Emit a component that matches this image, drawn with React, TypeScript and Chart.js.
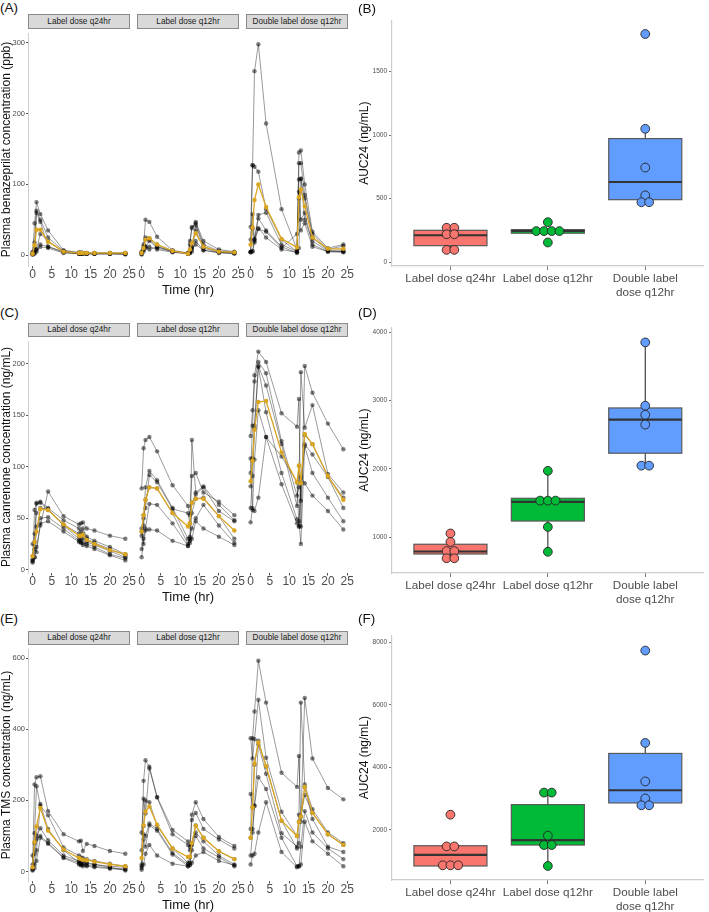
import React, { useEffect, useRef } from 'react';
import { Chart, registerables } from 'chart.js';
Chart.register(...registerables);

const FONT = "'Liberation Sans', Arial, Helvetica, sans-serif";

// ---------- shared ----------
const TIME_H = [0, 0.5, 1, 2, 4, 8, 12, 12.5, 13, 14, 16, 20, 24];
const TIME_TICKS = [0, 5, 10, 15, 20, 25];
const FACETS = ['Label dose q24hr', 'Label dose q12hr', 'Double label dose q12hr'];
const GROUPS = ['Label dose q24hr', 'Label dose q12hr', ['Double label', 'dose q12hr']];
const GROUP_COLORS = ['#F8766D', '#00BA38', '#619CFF'];

// ---------- (A) benazeprilat ----------
const BNZ_TICKS = [0, 100, 200, 300];
const BNZ_Q24 = [
  [2, 45, 75, 58, 35, 7, 4, 4, 3, 3, 3, 3, 3],
  [3, 18, 63, 50, 25, 6, 3, 3, 3, 2, 2, 2, 2],
  [1, 5, 60, 47, 12, 5, 2, 2, 2, 2, 2, 2, 2],
  [2, 3, 8, 15, 12, 4, 2, 2, 2, 2, 2, 2, 2],
  [1, 2, 5, 12, 10, 3, 2, 2, 2, 2, 2, 2, 1],
  [5, 10, 8, 30, 20, 5, 3, 3, 3, 3, 3, 3, 3],
];
const BNZ_Q24_MEAN = [2, 14, 36, 36, 19, 5, 3, 3, 3, 3, 3, 3, 3];
const BNZ_Q12 = [
  [2, 12, 50, 47, 26, 7, 3, 20, 38, 47, 20, 8, 5],
  [3, 8, 25, 24, 15, 6, 2, 15, 40, 45, 15, 6, 4],
  [2, 15, 22, 22, 12, 5, 2, 5, 12, 42, 12, 5, 3],
  [4, 10, 12, 20, 10, 5, 3, 4, 10, 35, 10, 4, 3],
  [1, 5, 10, 12, 8, 4, 2, 3, 5, 20, 7, 3, 2],
  [5, 8, 12, 8, 12, 6, 2, 3, 8, 15, 7, 4, 3],
];
const BNZ_Q12_MEAN = [3, 10, 22, 24, 15, 6, 2, 8, 17, 31, 12, 5, 4];
const BNZ_DBL = [
  [5, 127, 260, 298, 186, 65, 8, 145, 148, 100, 33, 10, 15],
  [40, 127, 125, 118, 65, 22, 5, 130, 130, 85, 30, 8, 13],
  [22, 58, 22, 57, 60, 15, 5, 107, 108, 80, 25, 7, 7],
  [5, 38, 20, 52, 35, 12, 3, 90, 50, 60, 15, 5, 5],
  [4, 5, 23, 37, 33, 10, 30, 80, 35, 45, 12, 5, 4],
  [4, 6, 18, 38, 25, 8, 4, 10, 108, 50, 20, 6, 5],
];
const BNZ_DBL_MEAN = [15, 39, 78, 100, 68, 23, 11, 82, 93, 69, 25, 9, 9];

// ---------- (C) canrenone ----------
const CAN_TICKS = [0, 50, 100, 150, 200];
const CAN_Q24 = [
  [7, 12, 22, 43, 76, 52, 44, 45, 46, 40, 38, 33, 30],
  [10, 58, 65, 66, 60, 48, 40, 37, 40, 32, 28, 22, 15],
  [13, 35, 64, 65, 58, 44, 35, 33, 35, 30, 26, 20, 14],
  [9, 27, 55, 60, 59, 43, 30, 29, 30, 27, 24, 18, 12],
  [8, 12, 42, 50, 51, 40, 28, 27, 26, 25, 22, 15, 11],
  [25, 20, 17, 45, 47, 37, 27, 26, 24, 23, 20, 14, 9],
];
const CAN_Q24_MEAN = [13, 27, 37, 59, 58, 44, 33, 33, 34, 29, 25, 19, 15];
const CAN_Q12 = [
  [79, 118, 126, 129, 115, 82, 62, 53, 91, 94, 75, 66, 53],
  [37, 50, 80, 96, 87, 60, 30, 28, 126, 75, 81, 63, 48],
  [33, 53, 60, 92, 85, 59, 55, 45, 65, 73, 80, 57, 47],
  [20, 43, 68, 80, 79, 55, 25, 30, 55, 69, 70, 52, 30],
  [12, 30, 40, 64, 63, 45, 23, 32, 40, 50, 63, 43, 26],
  [40, 25, 38, 39, 38, 28, 23, 26, 30, 47, 40, 32, 24],
];
const CAN_Q12_MEAN = [37, 53, 68, 80, 79, 55, 42, 45, 65, 69, 69, 52, 38];
const CAN_DBL = [
  [130, 155, 189, 212, 202, 152, 139, 166, 42, 198, 172, 142, 117],
  [94, 140, 183, 202, 191, 125, 72, 80, 192, 138, 160, 93, 75],
  [81, 108, 140, 198, 179, 122, 62, 101, 67, 131, 122, 91, 70],
  [60, 91, 137, 197, 153, 94, 49, 47, 25, 122, 112, 90, 60],
  [46, 60, 107, 155, 129, 83, 45, 42, 84, 120, 94, 70, 47],
  [108, 58, 57, 70, 129, 110, 85, 42, 90, 84, 72, 57, 39],
];
const CAN_DBL_MEAN = [86, 106, 136, 163, 164, 114, 85, 101, 84, 132, 122, 91, 68];

// ---------- (E) TMS ----------
const TMS_TICKS = [0, 200, 400, 600];
const TMS_Q24 = [
  [20, 245, 265, 268, 170, 105, 85, 87, 58, 78, 72, 58, 50],
  [10, 108, 240, 185, 158, 68, 45, 40, 38, 35, 30, 22, 15],
  [8, 80, 100, 122, 88, 45, 30, 25, 22, 22, 20, 15, 12],
  [5, 50, 90, 100, 80, 40, 25, 22, 20, 18, 15, 10, 8],
  [3, 20, 30, 95, 78, 38, 20, 18, 15, 15, 12, 8, 5],
  [45, 10, 60, 190, 120, 60, 25, 20, 30, 25, 20, 12, 3],
];
const TMS_Q24_MEAN = [12, 83, 127, 179, 115, 62, 38, 35, 33, 32, 28, 20, 15];
const TMS_Q12 = [
  [15, 255, 313, 295, 210, 117, 85, 70, 160, 195, 148, 97, 72],
  [110, 205, 163, 290, 208, 105, 75, 60, 145, 165, 120, 90, 65],
  [60, 128, 200, 195, 130, 65, 25, 40, 80, 130, 95, 57, 35],
  [20, 105, 100, 135, 120, 52, 20, 25, 75, 110, 85, 45, 20],
  [10, 90, 70, 130, 115, 48, 15, 20, 60, 100, 65, 40, 15],
  [5, 20, 50, 75, 45, 22, 15, 18, 25, 45, 55, 30, 18],
];
const TMS_Q12_MEAN = [38, 130, 169, 183, 132, 65, 41, 42, 80, 129, 95, 57, 35];
const TMS_DBL = [
  [95, 375, 450, 593, 475, 278, 238, 325, 140, 488, 318, 235, 203],
  [375, 318, 372, 483, 320, 168, 100, 160, 475, 245, 175, 110, 80],
  [218, 180, 300, 368, 295, 143, 65, 140, 155, 215, 165, 105, 75],
  [120, 120, 185, 357, 275, 108, 70, 80, 155, 238, 148, 70, 55],
  [45, 110, 185, 265, 232, 95, 15, 15, 70, 170, 110, 65, 35],
  [20, 45, 50, 110, 195, 55, 12, 15, 20, 140, 85, 50, 15],
];
const TMS_DBL_MEAN = [95, 181, 304, 363, 297, 143, 100, 140, 155, 238, 165, 105, 75];

// ---------- (B) AUC24 benazeprilat ----------
const B_TICKS = [0, 500, 1000, 1500];
const B_Q1 = [129, 227, 491];
const B_MED = [211, 245, 630];
const B_Q3 = [250, 255, 972];
const B_LO = [96, 227, 471];
const B_HI = [270, 255, 1049];
const B_PTS = [
  [270, 270, 219, 219, 96, 96],
  [314, 244, 244, 244, 244, 154],
  [1795, 1049, 744, 525, 471, 471],
];

// ---------- (D) AUC24 canrenone ----------
const D_TICKS = [1000, 2000, 3000, 4000];
const D_Q1 = [752, 1235, 2228];
const D_MED = [789, 1516, 2719];
const D_Q3 = [895, 1568, 2891];
const D_LO = [690, 785, 2046];
const D_HI = [1053, 1970, 3851];
const D_PTS = [
  [1053, 928, 795, 795, 690, 690],
  [1970, 1534, 1534, 1534, 1148, 785],
  [3851, 2924, 2791, 2648, 2046, 2046],
];

// ---------- (F) AUC24 TMS ----------
const F_TICKS = [2000, 4000, 6000, 8000];
const F_Q1 = [840, 1511, 2859];
const F_MED = [1197, 1668, 3265];
const F_Q3 = [1489, 2806, 4445];
const F_LO = [840, 840, 2784];
const F_HI = [1489, 3191, 4781];
const F_PTS = [
  [2483, 1467, 1467, 862, 862, 862],
  [3191, 3191, 1812, 1511, 1511, 840],
  [7740, 4781, 3549, 3003, 2784, 2784],
];

// ---------- styling ----------
const GOLD = '#DAA520';
const SUBJ_LINE = 'rgba(0,0,0,0.4)';
const SUBJ_PT = 'rgba(0,0,0,0.5)';
const AXIS_TXT = '#4d4d4d';
const DOT_STEP = 0.079;
const BOX_W = 0.75;

function toXY(vals: number[]) {
  return vals.map((v, i) => ({ x: TIME_H[i], y: v }));
}

function dotOffset(vals: number[], i: number) {
  const same: number[] = [];
  vals.forEach((v, j) => { if (v === vals[i]) same.push(j); });
  const k = same.indexOf(i);
  return (k - (same.length - 1) / 2) * DOT_STEP;
}

const plainNum = (v: any) => String(v);

type FacetProps = {
  subjects: number[][]; mean: number[]; yMin: number; yMax: number; yTicks: number[];
  showY: boolean; yTitle: string; showXTitle: boolean; yW: number; padL: number; padR: number;
};

function facetConfig(p: FacetProps): any {
  const datasets: any[] = [
    {
      data: toXY(p.mean), showLine: true, order: 0,
      borderColor: GOLD, borderWidth: 1.3, pointRadius: 2.2, pointBackgroundColor: GOLD, pointBorderWidth: 0,
    },
    ...p.subjects.map((s) => ({
      data: toXY(s), showLine: true, order: 1,
      borderColor: SUBJ_LINE, borderWidth: 1, pointRadius: 2.2, pointBackgroundColor: SUBJ_PT, pointBorderWidth: 0,
    })),
  ];
  return {
    type: 'scatter',
    data: { datasets },
    options: {
      responsive: false, animation: false, events: [],
      layout: { padding: { left: p.padL, right: p.padR, top: 0, bottom: 0 } },
      plugins: { legend: { display: false }, tooltip: { enabled: false } },
      scales: {
        x: {
          type: 'linear', min: -1.2, max: 25.2,
          afterBuildTicks: (s: any) => { s.ticks = TIME_TICKS.map((v) => ({ value: v })); },
          afterFit: (s: any) => { s.height = 32; s.paddingLeft = 0; s.paddingRight = 0; },
          grid: { drawOnChartArea: false, drawTicks: true, tickLength: 2.5, tickColor: '#555' },
          border: { display: false },
          ticks: { font: { family: FONT, size: 12, lineHeight: 1 }, color: AXIS_TXT, padding: 0, maxRotation: 0, autoSkip: false, callback: plainNum },
          title: { display: p.showXTitle, text: 'Time (hr)', font: { family: FONT, size: 13 }, color: '#111', padding: 0 },
        },
        y: {
          type: 'linear', display: p.showY, min: p.yMin, max: p.yMax,
          afterBuildTicks: (s: any) => { s.ticks = p.yTicks.map((v) => ({ value: v })); },
          afterFit: (s: any) => { s.width = p.showY ? p.yW : 0; s.paddingTop = 0; s.paddingBottom = 0; },
          grid: { drawOnChartArea: false, drawTicks: true, tickLength: 2, tickColor: '#555' },
          border: { display: true, color: '#cfcfcf', width: 1 },
          ticks: { font: { family: FONT, size: 7.5 }, color: AXIS_TXT, padding: 1, callback: plainNum },
          title: { display: true, text: p.yTitle, font: { family: FONT, size: 12, lineHeight: 1.1 }, color: '#111', padding: 0 },
        },
      },
    },
  };
}

const boxPlugin = {
  id: 'boxes',
  beforeDatasetsDraw(chart: any, _args: any, opts: any) {
    const { ctx, scales } = chart;
    const x = scales.x, y = scales.y;
    ctx.save();
    opts.q1.forEach((q1: number, i: number) => {
      const cx = x.getPixelForValue(i + 1);
      const xl = x.getPixelForValue(i + 1 - BOX_W / 2);
      const xr = x.getPixelForValue(i + 1 + BOX_W / 2);
      const y1 = y.getPixelForValue(q1);
      const y3 = y.getPixelForValue(opts.q3[i]);
      const ym = y.getPixelForValue(opts.med[i]);
      const ylo = y.getPixelForValue(opts.lo[i]);
      const yhi = y.getPixelForValue(opts.hi[i]);
      ctx.strokeStyle = '#333';
      ctx.lineWidth = 1.1;
      ctx.beginPath();
      ctx.moveTo(cx, y3); ctx.lineTo(cx, yhi);
      ctx.moveTo(cx, y1); ctx.lineTo(cx, ylo);
      ctx.stroke();
      ctx.fillStyle = GROUP_COLORS[i];
      ctx.fillRect(xl, y3, xr - xl, y1 - y3);
      ctx.strokeStyle = '#595959';
      ctx.lineWidth = 1.2;
      ctx.strokeRect(xl, y3, xr - xl, y1 - y3);
      ctx.strokeStyle = '#333';
      ctx.lineWidth = 2.2;
      ctx.beginPath();
      ctx.moveTo(xl, ym); ctx.lineTo(xr, ym);
      ctx.stroke();
    });
    ctx.restore();
  },
};

type BoxProps = {
  q1: number[]; med: number[]; q3: number[]; lo: number[]; hi: number[]; pts: number[][];
  yMin: number; yMax: number; yTicks: number[];
};

function boxConfig(p: BoxProps): any {
  const datasets = p.pts.map((vals, g) => ({
    data: vals.map((v, i) => ({ x: g + 1 + dotOffset(vals, i), y: v })),
    showLine: false,
    pointRadius: 4.4,
    pointBackgroundColor: GROUP_COLORS[g],
    pointBorderColor: '#262626',
    pointBorderWidth: 0.9,
  }));
  return {
    type: 'scatter',
    data: { datasets },
    plugins: [boxPlugin],
    options: {
      responsive: false, animation: false, events: [],
      layout: { padding: 0 },
      plugins: {
        legend: { display: false }, tooltip: { enabled: false },
        boxes: { q1: p.q1, med: p.med, q3: p.q3, lo: p.lo, hi: p.hi },
      },
      scales: {
        x: {
          type: 'linear', min: 0.4, max: 3.6,
          afterBuildTicks: (s: any) => { s.ticks = GROUPS.map((_, i) => ({ value: i + 1 })); },
          afterFit: (s: any) => { s.height = 36; s.paddingLeft = 0; s.paddingRight = 0; },
          grid: { drawOnChartArea: false, drawTicks: true, tickLength: 4, tickColor: '#777' },
          border: { display: true, color: '#cccccc', width: 1.2 },
          ticks: {
            font: { family: FONT, size: 11.7, lineHeight: 1.2 }, color: AXIS_TXT, padding: 2,
            maxRotation: 0, autoSkip: false,
            callback: (v: any) => GROUPS[Math.round(v) - 1],
          },
        },
        y: {
          type: 'linear', min: p.yMin, max: p.yMax,
          afterBuildTicks: (s: any) => { s.ticks = p.yTicks.map((v) => ({ value: v })); },
          afterFit: (s: any) => { s.width = 37; s.paddingTop = 0; s.paddingBottom = 0; },
          grid: { drawOnChartArea: false, drawTicks: true, tickLength: 3, tickColor: '#777' },
          border: { display: true, color: '#cccccc', width: 1.2 },
          ticks: { font: { family: FONT, size: 6.5 }, color: AXIS_TXT, padding: 2, callback: plainNum },
          title: { display: true, text: 'AUC24 (ng/mL)', font: { family: FONT, size: 12 }, color: '#111', padding: { top: 2, bottom: 0 } },
        },
      },
    },
  };
}

function ChartBox({ left, top, width, height, config }: { left: number; top: number; width: number; height: number; config: () => any }) {
  const ref = useRef<HTMLCanvasElement>(null);
  useEffect(() => {
    const c = new Chart(ref.current as HTMLCanvasElement, config());
    return () => c.destroy();
  }, []);
  return (
    <div style={{ position: 'absolute', left, top, width, height }}>
      <canvas ref={ref} width={width} height={height} style={{ width, height, display: 'block' }} />
    </div>
  );
}

// layout (pixels)
const FACET_LEFTS = [28, 137, 246];
const FACET_W = 102;
const Y_AXIS_W = 28;
const SIDE_PAD = 8;
const X_AXIS_H = 32;

type RowSpec = {
  stripTop: number; plotTop: number; plotBottom: number; yMin: number; yMax: number; yTicks: number[];
  yTitle: string; data: number[][][]; means: number[][];
};

const ROWS: RowSpec[] = [
  { stripTop: 14, plotTop: 29, plotBottom: 266, yMin: -15.3, yMax: 313.9, yTicks: BNZ_TICKS,
    yTitle: 'Plasma benazeprilat concentration (ppb)', data: [BNZ_Q24, BNZ_Q12, BNZ_DBL], means: [BNZ_Q24_MEAN, BNZ_Q12_MEAN, BNZ_DBL_MEAN] },
  { stripTop: 322.7, plotTop: 337, plotBottom: 572.7, yMin: -3.25, yMax: 222.3, yTicks: CAN_TICKS,
    yTitle: 'Plasma canrenone concentration (ng/mL)', data: [CAN_Q24, CAN_Q12, CAN_DBL], means: [CAN_Q24_MEAN, CAN_Q12_MEAN, CAN_DBL_MEAN] },
  { stripTop: 630.7, plotTop: 645, plotBottom: 881.3, yMin: -26.5, yMax: 625.7, yTicks: TMS_TICKS,
    yTitle: 'Plasma TMS concentration (ng/mL)', data: [TMS_Q24, TMS_Q12, TMS_DBL], means: [TMS_Q24_MEAN, TMS_Q12_MEAN, TMS_DBL_MEAN] },
];

const BOXES = [
  { top: 15, bottom: 265.7, yMin: -31, yMax: 1903, yTicks: B_TICKS, q1: B_Q1, med: B_MED, q3: B_Q3, lo: B_LO, hi: B_HI, pts: B_PTS },
  { top: 321.7, bottom: 572.7, yMin: 474, yMax: 4072, yTicks: D_TICKS, q1: D_Q1, med: D_MED, q3: D_Q3, lo: D_LO, hi: D_HI, pts: D_PTS },
  { top: 630, bottom: 880, yMin: 391, yMax: 8229, yTicks: F_TICKS, q1: F_Q1, med: F_MED, q3: F_Q3, lo: F_LO, hi: F_HI, pts: F_PTS },
];

const PANEL_LABELS = [
  { t: '(A)', x: 0, y: 1 }, { t: '(B)', x: 358, y: 2 },
  { t: '(C)', x: 0, y: 306 }, { t: '(D)', x: 358, y: 306 },
  { t: '(E)', x: 0, y: 612 }, { t: '(F)', x: 358, y: 612 },
];

export default function App() {
  const items: React.ReactNode[] = [];
  ROWS.forEach((row, r) => {
    const plotH = row.plotBottom - row.plotTop;
    FACET_LEFTS.forEach((fl, f) => {
      const first = f === 0;
      const canvasLeft = first ? fl - Y_AXIS_W : fl - SIDE_PAD;
      const padL = first ? 0 : SIDE_PAD;
      const width = (fl + FACET_W + SIDE_PAD) - canvasLeft;
      const props: FacetProps = {
        subjects: row.data[f], mean: row.means[f], yMin: row.yMin, yMax: row.yMax, yTicks: row.yTicks,
        showY: first, yTitle: row.yTitle, showXTitle: f === 1, yW: Y_AXIS_W, padL, padR: SIDE_PAD,
      };
      items.push(
        <ChartBox key={`f${r}${f}`} left={canvasLeft} top={row.plotTop} width={width}
          height={Math.round(plotH + X_AXIS_H)} config={() => facetConfig(props)} />
      );
      items.push(
        <div key={`s${r}${f}`} style={{
          position: 'absolute', left: fl, top: row.stripTop, width: FACET_W, height: row.plotTop - row.stripTop,
          boxSizing: 'border-box', background: '#d9d9d9', border: '1px solid #8a8a8a',
          fontFamily: FONT, fontSize: 8.2, color: '#1a1a1a', display: 'flex', alignItems: 'center',
          justifyContent: 'center', whiteSpace: 'nowrap',
        }}>{FACETS[f]}</div>
      );
    });
  });
  BOXES.forEach((b, i) => {
    const h = Math.round(b.bottom - b.top + 36);
    items.push(
      <ChartBox key={`b${i}`} left={355} top={b.top} width={354} height={h}
        config={() => boxConfig({ q1: b.q1, med: b.med, q3: b.q3, lo: b.lo, hi: b.hi, pts: b.pts, yMin: b.yMin, yMax: b.yMax, yTicks: b.yTicks })} />
    );
  });
  PANEL_LABELS.forEach((p) => {
    items.push(
      <div key={p.t} style={{ position: 'absolute', left: p.x, top: p.y, fontFamily: FONT, fontSize: 13.5, lineHeight: '14px', color: '#111' }}>{p.t}</div>
    );
  });
  return (
    <div style={{ position: 'absolute', left: 0, top: 0, width: 709, height: 912, overflow: 'hidden', background: '#fff' }}>
      {items}
    </div>
  );
}
